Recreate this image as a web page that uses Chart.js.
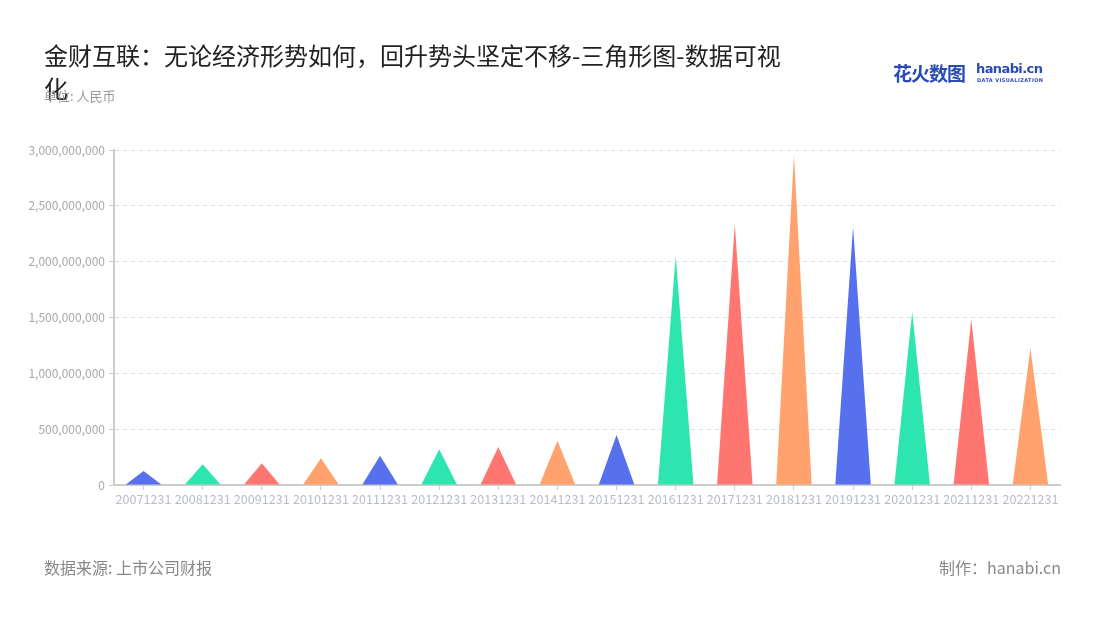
<!DOCTYPE html>
<html><head><meta charset="utf-8">
<script src="https://cdn.jsdelivr.net/npm/chart.js@4/dist/chart.umd.min.js"></script>
<style>
html,body{margin:0;padding:0;background:#fff;width:1100px;height:620px;overflow:hidden;font-family:"Noto Sans CJK SC","Noto Sans",sans-serif;}
#wrap{position:relative;width:1100px;height:620px;}
#c{position:absolute;left:0;top:0;}
.title{position:absolute;left:44px;top:38px;width:750px;font-size:24px;line-height:33px;color:#222;}
.unit{position:absolute;left:44px;top:86px;font-size:13px;color:#9a9a9a;}
.src{position:absolute;left:44px;top:555px;font-size:16px;color:#888;}
.made{position:absolute;right:39px;top:555px;font-size:16px;color:#888;}
.logo1{position:absolute;left:893px;top:59px;font-size:19px;font-weight:bold;color:#2a4bb6;letter-spacing:-1px;}
.logo2{position:absolute;left:976px;top:61px;font-size:13px;font-weight:bold;color:#2a4bb6;font-family:"DejaVu Sans",sans-serif;letter-spacing:-0.6px;}
.logo3{position:absolute;left:977px;top:77px;font-size:5px;font-weight:bold;color:#2a4bb6;letter-spacing:0.4px;font-family:"DejaVu Sans",sans-serif;}
</style></head>
<body><div id="wrap">
<canvas id="c" width="1100" height="620"></canvas>
<div class="title">金财互联：无论经济形势如何，回升势头坚定不移-三角形图-数据可视化</div>
<div class="unit">单位: 人民币</div>
<div class="logo1">花火数图</div>
<div class="logo2">hanabi.cn</div>
<div class="logo3">DATA VISUALIZATION</div>
<div class="src">数据来源: 上市公司财报</div>
<div class="made">制作：hanabi.cn</div>
</div>
<script>
const categories = ["20071231","20081231","20091231","20101231","20111231","20121231","20131231","20141231","20151231","20161231","20171231","20181231","20191231","20201231","20211231","20221231"];
const values = [125000000,185000000,194000000,239000000,263000000,320000000,340000000,397000000,448000000,2050000000,2335000000,2955000000,2313000000,1552000000,1484000000,1224000000];
const palette = ["#5670EE","#2DE6AF","#FF7670","#FFA26E"];
const yTicks = [0,500000000,1000000000,1500000000,2000000000,2500000000,3000000000];

const triPlugin = {
  id:'tri',
  beforeDatasetDraw(chart, args){
    const ctx = chart.ctx;
    const meta = args.meta;
    ctx.save();
    meta.data.forEach((el,i)=>{
      const p = el.getProps(['x','y','base','width'], true);
      ctx.beginPath();
      ctx.moveTo(p.x - p.width/2, p.base);
      ctx.lineTo(p.x, p.y);
      ctx.lineTo(p.x + p.width/2, p.base);
      ctx.closePath();
      ctx.fillStyle = palette[i % palette.length];
      ctx.fill();
    });
    ctx.restore();
    return false;
  }
};

new Chart(document.getElementById('c'), {
  type:'bar',
  data:{labels:categories, datasets:[{data:values, backgroundColor:categories.map((_,i)=>palette[i%palette.length]), borderWidth:0}]},
  options:{
    responsive:false, animation:false,
    layout:{padding:{left:0,top:150,right:40,bottom:0}},
    plugins:{legend:{display:false},tooltip:{enabled:false}},
    datasets:{bar:{categoryPercentage:1,barPercentage:0.6}},
    scales:{
      x:{
        grid:{offset:false,drawOnChartArea:false,drawTicks:true,tickLength:5,color:'#cccccc'},
        border:{color:'#cccccc',width:2},
        ticks:{color:'#b8bcc8',font:{size:12.6,family:'"Noto Sans CJK SC","Noto Sans",sans-serif'},padding:2,maxRotation:0,autoSkip:false},
        afterFit(s){ s.height = 135; }
      },
      y:{
        min:0,max:3000000000,
        afterBuildTicks(s){ s.ticks = yTicks.map(v=>({value:v})); },
        grid:{color:'#dedede',tickLength:5,tickColor:'#cccccc',tickBorderDash:[0,0]},
        border:{color:'#cccccc',width:2,dash:[4,4]},
        ticks:{color:'#a8a8a8',font:{size:12,family:'"Noto Sans CJK SC","Noto Sans",sans-serif'},padding:4,
          callback:(v)=>Number(v).toLocaleString('en-US')},
        afterFit(s){ s.width = 114; }
      }
    }
  },
  plugins:[triPlugin]
});
</script>
</body></html>
